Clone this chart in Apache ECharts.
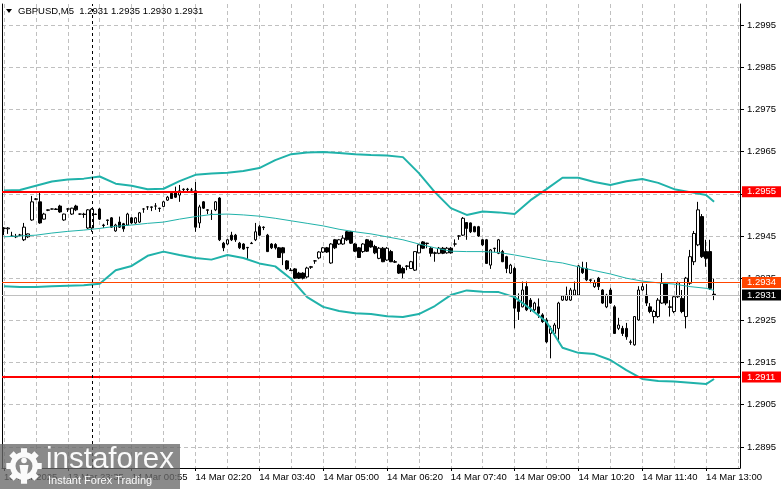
<!DOCTYPE html>
<html><head><meta charset="utf-8">
<script src="https://cdn.jsdelivr.net/npm/echarts@6/dist/echarts.min.js"></script>
<style>html,body{margin:0;padding:0;background:#fff;}#chart{width:781px;height:489px;}</style>
</head><body><div id="chart"></div>
<script>
// ---------------- DATA ----------------
const symbolName = 'GBPUSD,M5';
// [open, close, low, high] per 5-minute bar
const candles = [
[1.29469,1.29468,1.29452,1.29471],[1.29467,1.29469,1.29455,1.29471],[1.29450,1.29449,1.29448,1.29460],[1.29448,1.29449,1.29445,1.29455],
[1.29452,1.29452,1.29450,1.29455],[1.29441,1.29471,1.29438,1.29481],[1.29448,1.29455,1.29445,1.29456],[1.29488,1.29531,1.29486,1.29545],
[1.29537,1.29538,1.29535,1.29540],[1.29531,1.29481,1.29479,1.29555],[1.29490,1.29502,1.29489,1.29505],[1.29511,1.29512,1.29509,1.29513],
[1.29514,1.29514,1.29513,1.29515],[1.29514,1.29513,1.29512,1.29516],[1.29521,1.29507,1.29505,1.29524],[1.29488,1.29502,1.29486,1.29503],
[1.29514,1.29514,1.29507,1.29516],[1.29502,1.29516,1.29500,1.29517],[1.29521,1.29512,1.29509,1.29524],[1.29502,1.29502,1.29500,1.29503],
[1.29502,1.29501,1.29493,1.29505],[1.29469,1.29512,1.29467,1.29514],[1.29469,1.29514,1.29460,1.29516],[1.29502,1.29501,1.29500,1.29503],
[1.29514,1.29490,1.29488,1.29516],[1.29476,1.29475,1.29469,1.29479],[1.29488,1.29487,1.29476,1.29489],[1.29493,1.29471,1.29469,1.29495],
[1.29462,1.29476,1.29460,1.29479],[1.29483,1.29471,1.29469,1.29496],[1.29479,1.29467,1.29460,1.29481],[1.29476,1.29502,1.29474,1.29505],
[1.29493,1.29481,1.29479,1.29495],[1.29481,1.29493,1.29479,1.29495],[1.29483,1.29505,1.29481,1.29507],[1.29514,1.29514,1.29505,1.29516],
[1.29519,1.29519,1.29512,1.29520],[1.29519,1.29518,1.29509,1.29520],[1.29521,1.29521,1.29512,1.29528],[1.29515,1.29516,1.29507,1.29517],
[1.29520,1.29531,1.29519,1.29533],[1.29535,1.29542,1.29533,1.29545],[1.29551,1.29539,1.29538,1.29552],[1.29554,1.29542,1.29540,1.29567],
[1.29547,1.29557,1.29531,1.29571],[1.29560,1.29561,1.29554,1.29563],[1.29561,1.29560,1.29554,1.29564],[1.29559,1.29559,1.29554,1.29564],
[1.29557,1.29471,1.29460,1.29578],[1.29481,1.29519,1.29469,1.29524],[1.29531,1.29516,1.29514,1.29533],[1.29512,1.29511,1.29502,1.29513],
[1.29501,1.29502,1.29488,1.29512],[1.29512,1.29531,1.29509,1.29533],[1.29540,1.29441,1.29438,1.29542],[1.29433,1.29422,1.29414,1.29436],
[1.29431,1.29441,1.29429,1.29443],[1.29452,1.29441,1.29438,1.29460],[1.29452,1.29441,1.29436,1.29455],[1.29433,1.29422,1.29419,1.29436],
[1.29431,1.29419,1.29417,1.29433],[1.29423,1.29422,1.29393,1.29424],[1.29433,1.29432,1.29431,1.29436],[1.29441,1.29460,1.29438,1.29481],
[1.29472,1.29452,1.29450,1.29476],[1.29471,1.29470,1.29464,1.29473],[1.29452,1.29413,1.29412,1.29455],[1.29431,1.29422,1.29419,1.29433],
[1.29430,1.29422,1.29418,1.29433],[1.29422,1.29399,1.29398,1.29424],[1.29422,1.29410,1.29381,1.29424],[1.29391,1.29372,1.29369,1.29393],
[1.29369,1.29368,1.29367,1.29374],[1.29372,1.29350,1.29348,1.29374],[1.29362,1.29350,1.29348,1.29365],[1.29362,1.29350,1.29347,1.29364],
[1.29353,1.29374,1.29350,1.29377],[1.29377,1.29376,1.29372,1.29379],[1.29391,1.29391,1.29384,1.29393],[1.29398,1.29412,1.29395,1.29414],
[1.29412,1.29422,1.29410,1.29424],[1.29422,1.29412,1.29410,1.29424],[1.29386,1.29431,1.29384,1.29433],[1.29441,1.29422,1.29419,1.29443],
[1.29431,1.29441,1.29429,1.29443],[1.29431,1.29445,1.29429,1.29452],[1.29460,1.29441,1.29438,1.29462],[1.29460,1.29433,1.29431,1.29462],
[1.29431,1.29414,1.29412,1.29433],[1.29422,1.29399,1.29398,1.29424],[1.29413,1.29431,1.29410,1.29433],[1.29441,1.29414,1.29412,1.29443],
[1.29438,1.29424,1.29422,1.29441],[1.29425,1.29410,1.29407,1.29429],[1.29397,1.29421,1.29395,1.29424],[1.29421,1.29389,1.29388,1.29424],
[1.29393,1.29421,1.29391,1.29424],[1.29413,1.29389,1.29388,1.29417],[1.29389,1.29388,1.29386,1.29393],[1.29381,1.29362,1.29360,1.29384],
[1.29373,1.29362,1.29350,1.29377],[1.29379,1.29378,1.29369,1.29381],[1.29373,1.29389,1.29372,1.29391],[1.29369,1.29413,1.29367,1.29414],
[1.29410,1.29429,1.29409,1.29431],[1.29436,1.29421,1.29419,1.29438],[1.29433,1.29432,1.29421,1.29434],[1.29421,1.29409,1.29401,1.29424],
[1.29410,1.29409,1.29389,1.29413],[1.29409,1.29421,1.29407,1.29424],[1.29421,1.29409,1.29407,1.29424],[1.29410,1.29421,1.29408,1.29424],
[1.29421,1.29410,1.29408,1.29424],[1.29431,1.29431,1.29425,1.29442],[1.29450,1.29450,1.29441,1.29452],[1.29452,1.29492,1.29450,1.29495],
[1.29482,1.29468,1.29441,1.29483],[1.29481,1.29460,1.29457,1.29482],[1.29472,1.29460,1.29459,1.29474],[1.29472,1.29450,1.29448,1.29474],
[1.29441,1.29429,1.29426,1.29443],[1.29441,1.29385,1.29384,1.29443],[1.29381,1.29417,1.29372,1.29419],[1.29421,1.29420,1.29412,1.29422],
[1.29409,1.29441,1.29407,1.29443],[1.29413,1.29389,1.29388,1.29417],[1.29401,1.29373,1.29362,1.29403],[1.29362,1.29381,1.29360,1.29384],
[1.29373,1.29279,1.29231,1.29377],[1.29294,1.29271,1.29251,1.29314],[1.29282,1.29322,1.29281,1.29342],[1.29330,1.29275,1.29272,1.29342],
[1.29298,1.29282,1.29270,1.29303],[1.29275,1.29291,1.29272,1.29294],[1.29282,1.29267,1.29256,1.29302],[1.29263,1.29247,1.29244,1.29267],
[1.29251,1.29199,1.29196,1.29256],[1.29219,1.29231,1.29160,1.29237],[1.29219,1.29239,1.29215,1.29244],[1.29231,1.29291,1.29199,1.29294],
[1.29298,1.29308,1.29296,1.29310],[1.29298,1.29310,1.29296,1.29330],[1.29298,1.29322,1.29296,1.29327],[1.29310,1.29322,1.29308,1.29342],
[1.29310,1.29379,1.29308,1.29381],[1.29373,1.29363,1.29360,1.29389],[1.29373,1.29346,1.29343,1.29388],[1.29346,1.29345,1.29338,1.29348],
[1.29330,1.29339,1.29327,1.29346],[1.29350,1.29330,1.29322,1.29353],[1.29322,1.29291,1.29289,1.29324],[1.29282,1.29310,1.29279,1.29313],
[1.29322,1.29291,1.29289,1.29327],[1.29282,1.29219,1.29218,1.29286],[1.29231,1.29239,1.29227,1.29256],[1.29231,1.29219,1.29213,1.29237],
[1.29231,1.29211,1.29204,1.29244],[1.29199,1.29198,1.29192,1.29204],[1.29192,1.29259,1.29190,1.29260],[1.29251,1.29322,1.29249,1.29331],
[1.29322,1.29330,1.29320,1.29338],[1.29310,1.29291,1.29284,1.29336],[1.29282,1.29271,1.29267,1.29291],[1.29259,1.29271,1.29243,1.29275],
[1.29259,1.29298,1.29256,1.29303],[1.29291,1.29338,1.29289,1.29362],[1.29338,1.29291,1.29286,1.29341],[1.29282,1.29281,1.29259,1.29298],
[1.29271,1.29306,1.29267,1.29310],[1.29306,1.29339,1.29303,1.29342],[1.29302,1.29271,1.29267,1.29322],[1.29259,1.29350,1.29231,1.29353],
[1.29338,1.29401,1.29334,1.29417],[1.29389,1.29456,1.29381,1.29462],[1.29429,1.29512,1.29426,1.29531],[1.29496,1.29401,1.29398,1.29502],
[1.29413,1.29397,1.29377,1.29441],[1.29413,1.29326,1.29322,1.29441],[1.29312,1.29310,1.29298,1.29349]
];
// Bollinger band readings at these bar indices
const bandBars = [0,4,8,12,16,20,24,28,32,36,40,44,48,52,56,60,64,68,72,76,80,84,88,92,96,100,104,108,112,116,120,124,128,132,136,140,144,148,152,156,160,164,168,172,176,178];
const bandUpper = [1.29558,1.29559,1.29569,1.29579,1.29584,1.29586,1.29591,1.29574,1.29569,1.29561,1.29562,1.29580,1.29595,1.29598,1.29600,1.29604,1.29611,1.29630,1.29644,1.29648,1.29649,1.29647,1.29644,1.29642,1.29641,1.29637,1.29599,1.29554,1.29516,1.29500,1.29508,1.29506,1.29502,1.29535,1.29561,1.29588,1.29588,1.29578,1.29571,1.29580,1.29585,1.29576,1.29561,1.29554,1.29547,1.29531];
const bandMiddle = [1.29448,1.29450,1.29452,1.29457,1.29461,1.29464,1.29468,1.29473,1.29476,1.29480,1.29483,1.29490,1.29496,1.29501,1.29502,1.29500,1.29497,1.29492,1.29486,1.29480,1.29474,1.29466,1.29460,1.29455,1.29448,1.29441,1.29431,1.29422,1.29414,1.29413,1.29413,1.29411,1.29405,1.29398,1.29391,1.29386,1.29377,1.29368,1.29360,1.29350,1.29343,1.29339,1.29336,1.29330,1.29326,1.29321];
const bandLower = [1.29331,1.29329,1.29329,1.29331,1.29332,1.29333,1.29337,1.29369,1.29379,1.29403,1.29413,1.29405,1.29398,1.29394,1.29405,1.29398,1.29385,1.29378,1.29348,1.29305,1.29282,1.29272,1.29267,1.29265,1.29260,1.29258,1.29265,1.29284,1.29310,1.29321,1.29318,1.29317,1.29305,1.29277,1.29246,1.29185,1.29173,1.29170,1.29156,1.29132,1.29111,1.29106,1.29105,1.29102,1.29099,1.29111];
const levelPrices = [1.29555, 1.2934, 1.29116];
const levelLabels = ['1.2955', '1.2934', '1.2911'];
const bidPrice = 1.2931;
const bidLabel = '1.2931';
const priceTicks = [1.2895,1.2905,1.2915,1.2925,1.2935,1.2945,1.2955,1.2965,1.2975,1.2985,1.2995];
const timeLabels = ['13 Mar 2025','13 Mar 23:35','14 Mar 00:55','14 Mar 02:20','14 Mar 03:40','14 Mar 05:00','14 Mar 06:20','14 Mar 07:40','14 Mar 09:00','14 Mar 10:20','14 Mar 11:40','14 Mar 13:00'];
const separatorBar = 22;
const emptyBarsRight = 6;

// ---------------- STYLE ----------------
const FONT = 'Liberation Sans';
const FS = 9.5;
const levelColors = ['#ff0000', '#ff4500', '#ff0000'];
const levelWidths = [2, 1, 2];
const bandColor = '#20b2aa';
const gridColor = '#c0c0c0';

const categories = [];
for (let i = 0; i < candles.length + emptyBarsRight; i++) categories.push(String(i));
function spread(vals) {
  const a = new Array(candles.length).fill(null);
  bandBars.forEach((b, k) => { a[b] = vals[k]; });
  return a;
}
const last = candles[candles.length - 1];
const titleText = symbolName + '  ' + [last[0], last[3], last[2], last[1]].map(v => v.toFixed(4)).join(' ');

function tagLabel(text, bg) {
  return { show: true, position: 'end', formatter: text, color: '#fff', backgroundColor: bg,
    padding: [1, 6, 1, 5], fontSize: FS, lineHeight: 9, fontFamily: FONT, distance: 2 };
}
const markData = levelPrices.map((p, i) => ({
  yAxis: p, lineStyle: { color: levelColors[i], width: levelWidths[i], type: 'solid' },
  label: tagLabel(levelLabels[i], levelColors[i])
}));
markData.unshift({ yAxis: bidPrice, lineStyle: { color: '#c0c0c0', width: 1, type: 'solid' }, label: tagLabel(bidLabel, '#000') });
markData.push({ xAxis: separatorBar, lineStyle: { color: '#000', width: 1, type: [3, 3] }, label: { show: false } });

// gear outline for the watermark logo (decoration only)
function gearPoints(cx, cy, rOut, rIn, teeth) {
  const pts = [];
  for (let k = 0; k < teeth; k++) {
    const a = k * 2 * Math.PI / teeth;
    const w = Math.PI / teeth * 0.55;
    [[rIn, a - Math.PI / teeth], [rIn, a - w], [rOut, a - w * 0.8], [rOut, a + w * 0.8], [rIn, a + w]].forEach(p => {
      pts.push([cx + p[0] * Math.cos(p[1]), cy + p[0] * Math.sin(p[1])]);
    });
  }
  return pts;
}

const chart = echarts.init(document.getElementById('chart'), null, { renderer: 'canvas' });
chart.setOption({
  animation: false,
  backgroundColor: '#ffffff',
  textStyle: { fontFamily: FONT },
  grid: { left: 2, right: 41, top: 4, bottom: 21, show: false },
  xAxis: {
    type: 'category', data: categories, boundaryGap: true,
    axisLine: { show: true, lineStyle: { color: '#000', width: 1 } },
    axisTick: { show: true, interval: 15, alignWithLabel: true, length: 3, lineStyle: { color: '#000' } },
    axisLabel: { interval: 15, align: 'left', margin: 4, color: '#000', fontSize: FS, fontFamily: FONT,
      formatter: (v, i) => timeLabels[i / 16] || '' },
    splitLine: { show: true, interval: 7, alignWithLabel: true, lineStyle: { color: gridColor, type: [4, 3], width: 1 } }
  },
  yAxis: [{
    type: 'value', position: 'right', min: 1.2890, max: 1.3000, scale: true,
    axisLine: { show: true, lineStyle: { color: '#000', width: 1 } },
    axisTick: { show: true, customValues: priceTicks, length: 4, lineStyle: { color: '#000' } },
    axisLabel: { customValues: priceTicks, formatter: v => v.toFixed(4), color: '#000', fontSize: FS, fontFamily: FONT, margin: 7 },
    splitLine: { show: true, lineStyle: { color: gridColor, type: [4, 3], width: 1 } }
  }, {
    type: 'value', position: 'left', min: 1.2890, max: 1.3000,
    axisLine: { show: true, lineStyle: { color: '#000', width: 1 } },
    axisTick: { show: false }, axisLabel: { show: false }, splitLine: { show: false }
  }],
  series: [
    {
      type: 'candlestick', data: candles, barWidth: 3, yAxisIndex: 0, z: 3,
      itemStyle: { color: '#ffffff', color0: '#000000', borderColor: '#000000', borderColor0: '#000000', borderWidth: 1 },
      markLine: { silent: true, precision: 5, symbol: ['none', 'none'], animation: false, data: markData, z: 10 }
    },
    { type: 'line', data: spread(bandUpper), connectNulls: true, showSymbol: false, symbol: 'none', z: 5,
      lineStyle: { color: bandColor, width: 2 } },
    { type: 'line', data: spread(bandMiddle), connectNulls: true, showSymbol: false, symbol: 'none', z: 5,
      lineStyle: { color: bandColor, width: 1 } },
    { type: 'line', data: spread(bandLower), connectNulls: true, showSymbol: false, symbol: 'none', z: 5,
      lineStyle: { color: bandColor, width: 2 } }
  ],
  graphic: [
    { type: 'polygon', shape: { points: [[6, 9], [12, 9], [9, 13]] }, style: { fill: '#000' }, z: 100 },
    { type: 'text', x: 18, y: 11, style: { text: titleText, fill: '#000', font: '9.5px "Liberation Sans"', verticalAlign: 'middle' }, z: 100 },
    { type: 'rect', shape: { x: 0, y: 444, width: 180, height: 45 }, style: { fill: 'rgba(105,105,105,0.78)' }, z: 100 },
    { type: 'polygon', shape: { points: gearPoints(24, 466, 18, 14, 8) }, style: { fill: '#fafafa' }, z: 101 },
    { type: 'circle', shape: { cx: 24, cy: 466, r: 8.5 }, style: { fill: '#8a8a8a' }, z: 102 },
    { type: 'circle', shape: { cx: 24, cy: 460.5, r: 2.8 }, style: { fill: '#fafafa' }, z: 103 },
    { type: 'polygon', shape: { points: [[19.5, 465], [28.5, 465], [27, 475], [21, 475]] }, style: { fill: '#fafafa' }, z: 103 },
    { type: 'text', x: 46, y: 460, style: { text: 'instaforex', fill: '#fafafa', font: '29.5px "Liberation Sans"', verticalAlign: 'middle' }, z: 101 },
    { type: 'text', x: 48, y: 481, style: { text: 'Instant Forex Trading', fill: '#fafafa', font: '11px "Liberation Sans"', verticalAlign: 'middle' }, z: 101 }
  ]
});
</script>
</body></html>
